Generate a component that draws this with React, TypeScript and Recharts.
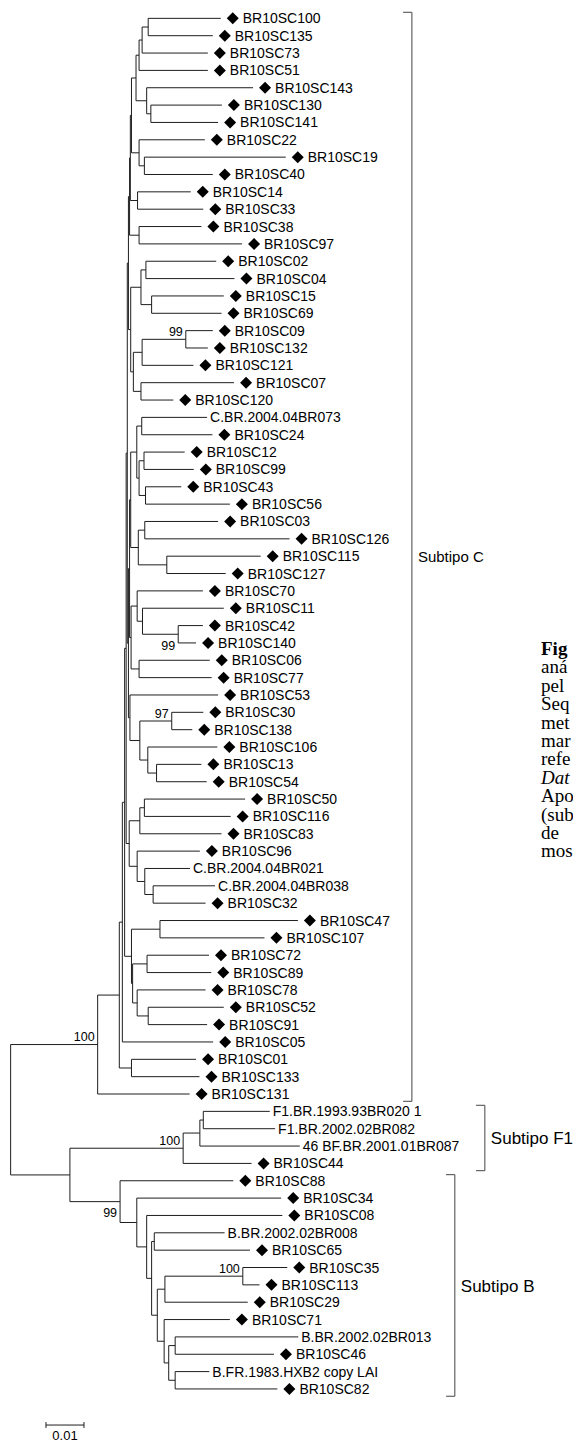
import React from 'react';
import { ComposedChart, XAxis, YAxis, Scatter, ReferenceLine } from 'recharts';

// ---------- DATA ----------
const leafNames: string[] = [
  "BR10SC100","BR10SC135","BR10SC73","BR10SC51","BR10SC143","BR10SC130","BR10SC141","BR10SC22","BR10SC19","BR10SC40",
  "BR10SC14","BR10SC33","BR10SC38","BR10SC97","BR10SC02","BR10SC04","BR10SC15","BR10SC69","BR10SC09","BR10SC132",
  "BR10SC121","BR10SC07","BR10SC120","C.BR.2004.04BR073","BR10SC24","BR10SC12","BR10SC99","BR10SC43","BR10SC56","BR10SC03",
  "BR10SC126","BR10SC115","BR10SC127","BR10SC70","BR10SC11","BR10SC42","BR10SC140","BR10SC06","BR10SC77","BR10SC53",
  "BR10SC30","BR10SC138","BR10SC106","BR10SC13","BR10SC54","BR10SC50","BR10SC116","BR10SC83","BR10SC96","C.BR.2004.04BR021",
  "C.BR.2004.04BR038","BR10SC32","BR10SC47","BR10SC107","BR10SC72","BR10SC89","BR10SC78","BR10SC52","BR10SC91","BR10SC05",
  "BR10SC01","BR10SC133","BR10SC131","F1.BR.1993.93BR020 1","F1.BR.2002.02BR082","46 BF.BR.2001.01BR087","BR10SC44","BR10SC88","BR10SC34","BR10SC08",
  "B.BR.2002.02BR008","BR10SC65","BR10SC35","BR10SC113","BR10SC29","BR10SC71","B.BR.2002.02BR013","BR10SC46","B.FR.1983.HXB2 copy LAI","BR10SC82",
];

// distance from root to each tip (substitutions / site)
const leafDepths: number[] = [
  0.0553,0.0532,0.0519,0.0519,0.0638,0.0556,0.0546,0.0511,0.0724,0.0532,
  0.0474,0.0507,0.0502,0.0609,0.0541,0.0589,0.0561,0.0555,0.0532,0.0519,
  0.0481,0.0588,0.0428,0.0517,0.0531,0.0458,0.0482,0.0449,0.0577,0.0546,
  0.0734,0.0658,0.0566,0.0506,0.0561,0.0506,0.0488,0.0524,0.0529,0.0546,
  0.0507,0.0478,0.0544,0.0502,0.0516,0.0617,0.0579,0.0555,0.0498,0.0472,
  0.0538,0.0513,0.0756,0.0668,0.0522,0.0528,0.0513,0.0561,0.0517,0.0533,
  0.0488,0.0497,0.0471,0.0682,0.0696,0.0761,0.0634,0.0586,0.0712,0.0715,
  0.0563,0.0630,0.0728,0.0655,0.0624,0.0577,0.0757,0.0693,0.0523,0.0702,
];

// internal nodes: [id, depth from root, children top-to-bottom]
const innerNodes: [string, number, string[]][] = [
  ["A1", 0.0362, ["L0", "L1"]],
  ["A2", 0.0346, ["A1", "L2"]],
  ["A3", 0.0338, ["A2", "L3"]],
  ["A4", 0.0369, ["L5", "L6"]],
  ["A5", 0.0358, ["L4", "A4"]],
  ["A6", 0.0330, ["A3", "A5"]],
  ["A7", 0.0352, ["L8", "L9"]],
  ["A8", 0.0338, ["L7", "A7"]],
  ["G1", 0.0318, ["A6", "A8"]],
  ["G3", 0.0334, ["L10", "L11"]],
  ["G4", 0.0338, ["L12", "L13"]],
  ["G5a", 0.0356, ["L14", "L15"]],
  ["G5b", 0.0371, ["L16", "L17"]],
  ["G5", 0.0343, ["G5a", "G5b"]],
  ["G6a", 0.0461, ["L18", "L19"]],
  ["G6b", 0.0346, ["G6a", "L20"]],
  ["G6c", 0.0343, ["L21", "L22"]],
  ["G6", 0.0323, ["G6b", "G6c"]],
  ["G7a", 0.0345, ["L23", "L24"]],
  ["G7b", 0.0351, ["L25", "L26"]],
  ["G7c", 0.0355, ["L27", "L28"]],
  ["G7d", 0.0338, ["G7b", "G7c"]],
  ["G7", 0.0332, ["G7a", "G7d"]],
  ["G8a", 0.0353, ["L29", "L30"]],
  ["G8b", 0.0411, ["L31", "L32"]],
  ["G8", 0.0336, ["G8a", "G8b"]],
  ["G9a", 0.0441, ["L35", "L36"]],
  ["G9b", 0.0347, ["L34", "G9a"]],
  ["G9", 0.0333, ["L33", "G9b"]],
  ["G10", 0.0338, ["L37", "L38"]],
  ["G11a", 0.0424, ["L40", "L41"]],
  ["G11b", 0.0384, ["L43", "L44"]],
  ["G11c", 0.0361, ["L42", "G11b"]],
  ["G11", 0.0340, ["G11a", "G11c"]],
  ["G13a", 0.0352, ["L45", "L46"]],
  ["G13", 0.0340, ["G13a", "L47"]],
  ["G14a", 0.0375, ["L50", "L51"]],
  ["G14b", 0.0353, ["L49", "G14a"]],
  ["G14", 0.0333, ["L48", "G14b"]],
  ["GEa", 0.0393, ["L52", "L53"]],
  ["GEb", 0.0359, ["L54", "L55"]],
  ["GEc", 0.0362, ["L57", "L58"]],
  ["GEd", 0.0333, ["L56", "GEc"]],
  ["GEe", 0.0321, ["GEb", "GEd"]],
  ["GE", 0.0318, ["GEa", "GEe"]],
  ["G15", 0.0318, ["L60", "L61"]],
  ["S1", 0.0315, ["G1", "G3"]],
  ["S2", 0.0313, ["S1", "G4"]],
  ["S3", 0.0316, ["G5", "G6"]],
  ["S4", 0.0310, ["S2", "S3"]],
  ["S5", 0.0316, ["G7", "G8"]],
  ["S6", 0.0317, ["G9", "G10"]],
  ["S7", 0.0313, ["S5", "S6"]],
  ["S9", 0.0314, ["L39", "G11"]],
  ["Pb2", 0.0310, ["S7", "S9"]],
  ["Pa", 0.0307, ["S4", "Pb2"]],
  ["S10", 0.0312, ["G13", "G14"]],
  ["P1", 0.0304, ["Pa", "S10"]],
  ["P", 0.0300, ["P1", "GE"]],
  ["Q", 0.0294, ["P", "L59"]],
  ["Cm", 0.0286, ["Q", "G15"]],
  ["C", 0.0229, ["Cm", "L62"]],
  ["F1b", 0.0507, ["L63", "L64"]],
  ["F1a", 0.0498, ["F1b", "L65"]],
  ["F1", 0.0454, ["F1a", "L66"]],
  ["Bi", 0.0611, ["L72", "L73"]],
  ["Bg", 0.0406, ["Bi", "L74"]],
  ["Bk", 0.0433, ["L76", "L77"]],
  ["Bl", 0.0433, ["L78", "L79"]],
  ["Bj", 0.0416, ["Bk", "Bl"]],
  ["Bh", 0.0404, ["L75", "Bj"]],
  ["Bf", 0.0386, ["Bg", "Bh"]],
  ["Be", 0.0378, ["L70", "L71"]],
  ["Bd", 0.0371, ["Be", "Bf"]],
  ["Bc", 0.0358, ["L69", "Bd"]],
  ["Bb", 0.0332, ["L68", "Bc"]],
  ["B", 0.0288, ["L67", "Bb"]],
  ["FB", 0.0156, ["F1", "B"]],
  ["root", 0.0, ["C", "FB"]],
];

// bootstrap support
const bootstrapNodes: string[] = ["G6a", "G9a", "G11a", "C", "F1", "B", "Bi"];
const bootstrapValues: number[] = [99, 99, 97, 100, 100, 99, 100];
const bootstrapSides: string[] = ["above", "below", "above", "above", "above", "below", "above"];

// subtype brackets
const subtypeLabels: string[] = ["Subtipo C", "Subtipo F1", "Subtipo B"];
const subtypeFirstLeaf: number[] = [0, 63, 67];
const subtypeLastLeaf: number[] = [62, 66, 79];
const subtypeBracketX: number[] = [0.1056, 0.1248, 0.1169];

// scale bar
const scaleBarStart = 0.0093;
const scaleBarLength = 0.01;
const scaleBarLabel = "0.01";

// visible part of the caption that is cut by the right edge of the figure
const captionLines: string[] = [
  "Fig", "aná", "pel", "Seq", "met", "mar",
  "refe", "Dat", "Apo", "(sub", "de", "mos",
];

// ---------- LAYOUT ----------
type TNode = { depth: number; children: string[] };
const nodeMap = new Map<string, TNode>();
leafNames.forEach((_, i) => nodeMap.set(`L${i}`, { depth: leafDepths[i], children: [] }));
innerNodes.forEach(([id, d, ch]) => nodeMap.set(id, { depth: d, children: ch }));

const yOf = new Map<string, number>();
function layout(id: string): number {
  const n = nodeMap.get(id)!;
  let y: number;
  if (n.children.length === 0) y = parseInt(id.slice(1), 10);
  else {
    const ys = n.children.map(layout);
    y = (ys[0] + ys[ys.length - 1]) / 2;
  }
  yOf.set(id, y);
  return y;
}
layout("root");

type Seg = [{ x: number; y: number }, { x: number; y: number }];
const treeSegments: Seg[] = [];
innerNodes.forEach(([id, d, ch]) => {
  const yTop = yOf.get(ch[0])!;
  const yBot = yOf.get(ch[ch.length - 1])!;
  treeSegments.push([{ x: d, y: yTop }, { x: d, y: yBot }]);
  ch.forEach((c) => {
    const cy = yOf.get(c)!;
    treeSegments.push([{ x: d, y: cy }, { x: nodeMap.get(c)!.depth, y: cy }]);
  });
});

const leafPoints = leafNames.map((name, i) => ({
  x: leafDepths[i],
  y: i,
  name,
  own: name.startsWith("BR10SC"),
}));

const bootPoints = bootstrapNodes.map((id, i) => ({
  x: nodeMap.get(id)!.depth,
  y: yOf.get(id)!,
  value: bootstrapValues[i],
  side: bootstrapSides[i],
}));

const BRACKET_PAD_TOP = 0.35;
const BRACKET_PAD_BOT = 0.42;
const TICK = 0.0023;
const bracketSegments: Seg[] = [];
subtypeLabels.forEach((_, i) => {
  const x = subtypeBracketX[i];
  const y0 = subtypeFirstLeaf[i] - BRACKET_PAD_TOP;
  const y1 = subtypeLastLeaf[i] + BRACKET_PAD_BOT;
  bracketSegments.push([{ x, y: y0 }, { x, y: y1 }]);
  bracketSegments.push([{ x: x - TICK, y: y0 }, { x, y: y0 }]);
  bracketSegments.push([{ x: x - TICK, y: y1 }, { x, y: y1 }]);
});
const subtypePoints = subtypeLabels.map((label, i) => ({
  x: subtypeBracketX[i],
  y: (subtypeFirstLeaf[i] - BRACKET_PAD_TOP + subtypeLastLeaf[i] + BRACKET_PAD_BOT) / 2,
  label,
  size: i === 0 ? 15 : 17,
}));

const SCALE_Y = 81.08;
const scaleSegments: Seg[] = [
  [{ x: scaleBarStart, y: SCALE_Y }, { x: scaleBarStart + scaleBarLength, y: SCALE_Y }],
  [{ x: scaleBarStart, y: SCALE_Y - 0.17 }, { x: scaleBarStart, y: SCALE_Y + 0.17 }],
  [{ x: scaleBarStart + scaleBarLength, y: SCALE_Y - 0.17 }, { x: scaleBarStart + scaleBarLength, y: SCALE_Y + 0.17 }],
];
const scalePoints = [{ x: scaleBarStart + scaleBarLength / 2, y: SCALE_Y + 0.6, label: scaleBarLabel }];

// ---------- RENDER ----------
const SANS = "'Liberation Sans', Arial, Helvetica, sans-serif";
const LINE = "#1e1e1e";

const LeafMark = (p: any) => {
  const { cx, cy, payload } = p;
  if (cx == null || cy == null) return null;
  if (payload.own) {
    const dx = cx + 12;
    return (
      <g>
        <path d={`M${dx},${cy - 6}L${dx + 6},${cy}L${dx},${cy + 6}L${dx - 6},${cy}Z`} fill="#000" />
        <text x={cx + 22} y={cy + 5} fontSize={14} fontFamily={SANS} fill="#000">{payload.name}</text>
      </g>
    );
  }
  return (
    <text x={cx + 3} y={cy + 5} fontSize={14} fontFamily={SANS} fill="#000">{payload.name}</text>
  );
};

const BootMark = (p: any) => {
  const { cx, cy, payload } = p;
  if (cx == null || cy == null) return null;
  const ty = payload.side === "above" ? cy - 8 : cy + 11;
  return (
    <text x={cx - 3} y={ty + 4.5} textAnchor="end" fontSize={12.5} fontFamily={SANS} fill="#000">
      {payload.value}
    </text>
  );
};

const SubtypeMark = (p: any) => {
  const { cx, cy, payload } = p;
  if (cx == null || cy == null) return null;
  return (
    <text x={cx + 6} y={cy + payload.size * 0.36} fontSize={payload.size} fontFamily={SANS} fill="#000">
      {payload.label}
    </text>
  );
};

const ScaleMark = (p: any) => {
  const { cx, cy, payload } = p;
  if (cx == null || cy == null) return null;
  return (
    <text x={cx} y={cy + 4.5} textAnchor="middle" fontSize={13} fontFamily={SANS} fill="#000">
      {payload.label}
    </text>
  );
};

export default function App() {
  return (
    <div style={{ position: "absolute", left: 0, top: 0, width: 573, height: 1442, overflow: "hidden", background: "#fff" }}>
      <ComposedChart width={573} height={1442} margin={{ top: 1, right: 0, bottom: 1, left: 0 }}>
        <XAxis type="number" dataKey="x" domain={[-0.0028, 0.148]} hide allowDataOverflow />
        <YAxis type="number" dataKey="y" domain={[-1, 82]} reversed hide allowDataOverflow />
        {treeSegments.map((s, i) => (
          <ReferenceLine key={`t${i}`} segment={s} stroke={LINE} strokeWidth={1} ifOverflow="visible" />
        ))}
        {bracketSegments.map((s, i) => (
          <ReferenceLine key={`b${i}`} segment={s} stroke="#444" strokeWidth={1} ifOverflow="visible" />
        ))}
        {scaleSegments.map((s, i) => (
          <ReferenceLine key={`s${i}`} segment={s} stroke={LINE} strokeWidth={1} ifOverflow="visible" />
        ))}
        <Scatter data={leafPoints} shape={(p: any) => <LeafMark {...p} />} isAnimationActive={false} />
        <Scatter data={bootPoints} shape={(p: any) => <BootMark {...p} />} isAnimationActive={false} />
        <Scatter data={subtypePoints} shape={(p: any) => <SubtypeMark {...p} />} isAnimationActive={false} />
        <Scatter data={scalePoints} shape={(p: any) => <ScaleMark {...p} />} isAnimationActive={false} />
      </ComposedChart>
      {captionLines.map((t, i) => (
        <div
          key={i}
          style={{
            position: "absolute",
            left: 541,
            top: 649 + i * 18.4 - 10,
            fontFamily: "'Liberation Serif', 'Times New Roman', serif",
            fontSize: 19,
            lineHeight: "20px",
            whiteSpace: "nowrap",
            fontWeight: i === 0 ? "bold" : "normal",
            fontStyle: i === 7 ? "italic" : "normal",
            color: "#000",
          }}
        >
          {t}
        </div>
      ))}
    </div>
  );
}
